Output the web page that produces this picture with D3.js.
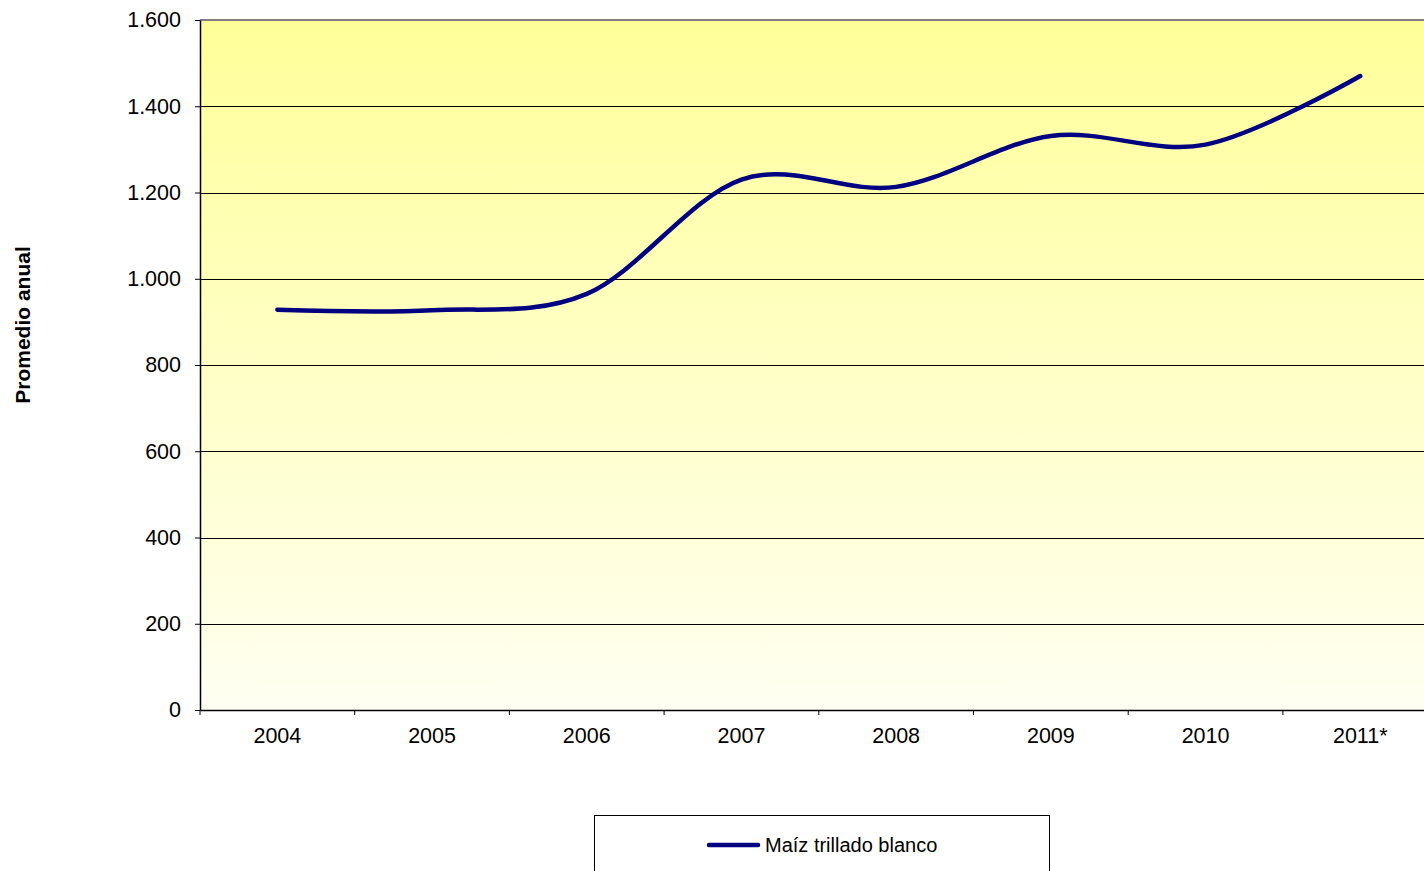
<!DOCTYPE html>
<html><head><meta charset="utf-8">
<script src="https://cdn.jsdelivr.net/npm/d3@7"></script>
<style>body{margin:0;background:#fff;overflow:hidden}svg{display:block}text{font-family:"Liberation Sans",Arial,sans-serif}</style>
</head><body>
<script>
const categories = ["2004","2005","2006","2007","2008","2009","2010","2011*"];
const values = [928, 927, 965, 1230, 1213, 1331, 1311, 1470];
const yTicks = [0,200,400,600,800,1000,1200,1400,1600];
const seriesName = "Maíz trillado blanco";
const yTitle = "Promedio anual";

const W=1424,H=871;
const mLeft=200, mTop=20, bandW=154.7, plotH=690;
const mRight = mLeft + bandW*categories.length;
const svg=d3.select("body").append("svg").attr("width",W).attr("height",H);
const defs=svg.append("defs");
const g=defs.append("linearGradient").attr("id","bg").attr("x1",0).attr("y1",0).attr("x2",0).attr("y2",1);
g.append("stop").attr("offset","0%").attr("stop-color","#FFFF99");
g.append("stop").attr("offset","100%").attr("stop-color","#FFFFF2");

const x=d3.scaleBand().domain(categories).range([mLeft,mRight]);
const y=d3.scaleLinear().domain([0,1600]).range([mTop+plotH,mTop]);

svg.append("rect").attr("x",mLeft).attr("y",mTop).attr("width",mRight-mLeft).attr("height",plotH).attr("fill","url(#bg)");
svg.append("g").selectAll("line").data(yTicks.filter(d=>d>0&&d<1600)).join("line")
  .attr("x1",mLeft).attr("x2",mRight).attr("y1",d=>Math.round(y(d))+0.5).attr("y2",d=>Math.round(y(d))+0.5).attr("stroke","#000").attr("stroke-width",1);
svg.append("line").attr("x1",mLeft).attr("x2",mRight).attr("y1",y(1600)).attr("y2",y(1600)).attr("stroke","#808080").attr("stroke-width",2);

const fmt=d=>d3.format(",")(d).replace(/,/g,".");
const yAxis=svg.append("g").attr("transform",`translate(${mLeft},0)`)
  .call(d3.axisLeft(y).tickValues(yTicks).tickFormat(fmt).tickSizeInner(5).tickSizeOuter(0).tickPadding(14));
yAxis.select(".domain").attr("stroke","#000").attr("stroke-width",1.5);
yAxis.selectAll("text").attr("font-size",21.5).attr("fill","#000").attr("font-family","Liberation Sans, Arial, sans-serif");

const xAxis=svg.append("g").attr("transform",`translate(0,${mTop+plotH})`)
  .call(d3.axisBottom(x).tickSize(0).tickPadding(18));
xAxis.select(".domain").attr("stroke","#000").attr("stroke-width",1.5);
xAxis.selectAll("text").attr("font-size",21.5).attr("fill","#000").attr("font-family","Liberation Sans, Arial, sans-serif");
svg.append("g").selectAll("line").data(categories).join("line")
  .attr("x1",d=>x(d)).attr("x2",d=>x(d)).attr("y1",mTop+plotH).attr("y2",mTop+plotH+5).attr("stroke","#000");

const line=d3.line().x((d,i)=>x(categories[i])+x.bandwidth()/2).y(d=>y(d)).curve(d3.curveCardinal.tension(0));
svg.append("path").datum(values).attr("d",line).attr("fill","none").attr("stroke","#000080").attr("stroke-width",4.5).attr("stroke-linecap","round");

svg.append("text").attr("transform",`translate(30,325) rotate(-90)`).attr("text-anchor","middle")
  .attr("font-size",21).attr("font-weight","bold").text(yTitle);

svg.append("rect").attr("x",594.5).attr("y",815.5).attr("width",455).attr("height",80).attr("fill","#fff").attr("stroke","#000").attr("stroke-width",1);
svg.append("line").attr("x1",709).attr("x2",758).attr("y1",845).attr("y2",845).attr("stroke","#000080").attr("stroke-width",4.5).attr("stroke-linecap","round");
svg.append("text").attr("x",765).attr("y",852).attr("font-size",20).text(seriesName);
</script>
</body></html>
